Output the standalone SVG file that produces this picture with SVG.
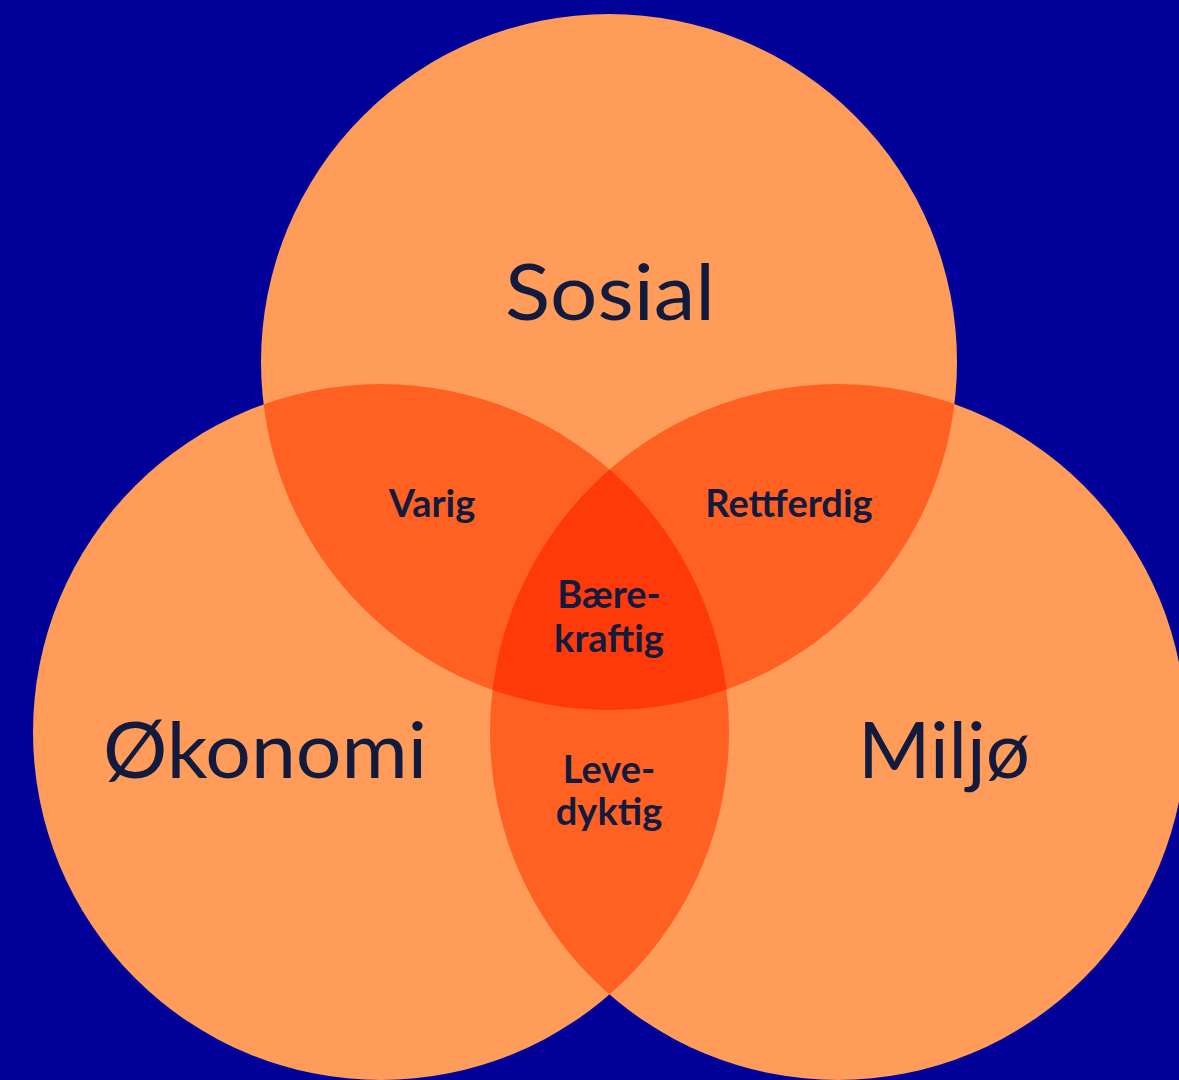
<svg xmlns="http://www.w3.org/2000/svg" width="1179" height="1080" viewBox="0 0 1179 1080">
  <style>
    .big { font-family: Lato, "Open Sans", sans-serif; font-weight: 400; font-size: 78px; fill: #121a3e; }
    .small { font-family: Lato, "Open Sans", sans-serif; font-weight: 700; font-size: 38px; fill: #121a3e; text-anchor: middle; }
    .c { fill: #ff9c5a; }
    .p { fill: #ff6122; }
    .t { fill: #ff3a0a; }
  </style>
  <defs>
    <clipPath id="clipTop"><circle cx="609" cy="362" r="348"/></clipPath>
    <clipPath id="clipLeft"><circle cx="381" cy="732" r="348"/></clipPath>
    <clipPath id="clipTopLeft" clip-path="url(#clipLeft)"><circle cx="609" cy="362" r="348"/></clipPath>
  </defs>
  <rect width="1179" height="1080" fill="#000099"/>
  <g id="circle-sosial">
    <circle class="c" cx="609" cy="362" r="348"/>
  </g>
  <g id="circle-okonomi">
    <circle class="c" cx="381" cy="732" r="348"/>
  </g>
  <g id="circle-miljo">
    <circle class="c" cx="838" cy="732" r="348"/>
  </g>
  <g id="overlap-varig">
    <circle class="p" cx="381" cy="732" r="348" clip-path="url(#clipTop)"/>
  </g>
  <g id="overlap-rettferdig">
    <circle class="p" cx="838" cy="732" r="348" clip-path="url(#clipTop)"/>
  </g>
  <g id="overlap-levedyktig">
    <circle class="p" cx="838" cy="732" r="348" clip-path="url(#clipLeft)"/>
  </g>
  <g id="overlap-baerekraftig">
    <circle class="t" cx="838" cy="732" r="348" clip-path="url(#clipTopLeft)"/>
  </g>
  <g id="labels">
    <text class="big" x="505" y="320" textLength="210" lengthAdjust="spacingAndGlyphs">Sosial</text>
    <text class="big" x="103" y="778" textLength="324" lengthAdjust="spacingAndGlyphs">Økonomi</text>
    <text class="big" x="858" y="778" textLength="172" lengthAdjust="spacingAndGlyphs">Miljø</text>
    <text class="small" x="432" y="517">Varig</text>
    <text class="small" x="789" y="517">Rettferdig</text>
    <text class="small" x="609" y="608">Bære-</text>
    <text class="small" x="609" y="652">kraftig</text>
    <text class="small" x="609" y="783">Leve-</text>
    <text class="small" x="609" y="825">dyktig</text>
  </g>
</svg>
